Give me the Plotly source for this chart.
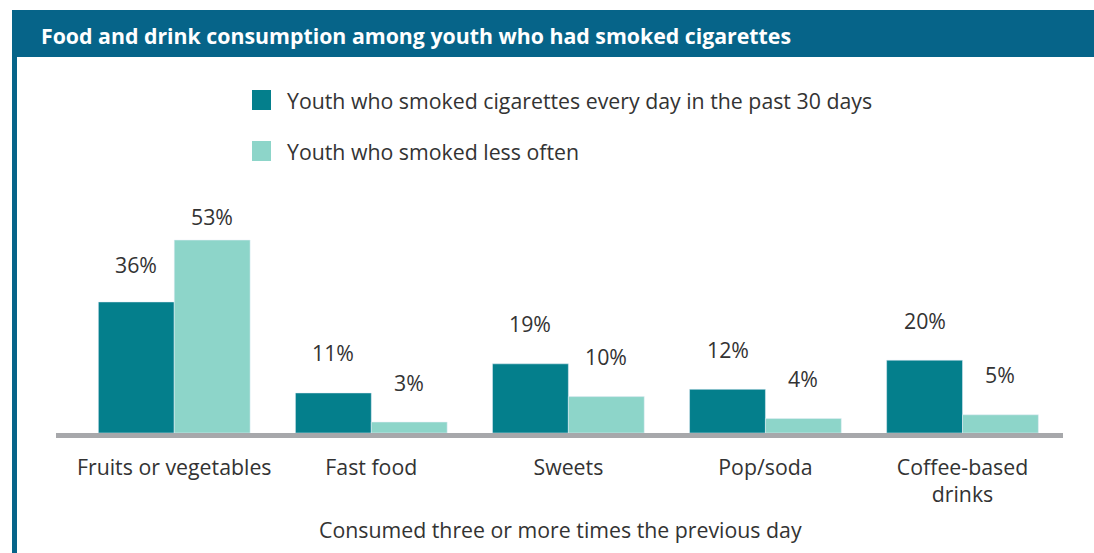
import plotly.graph_objects as go

categories = ["Fruits or vegetables", "Fast food", "Sweets", "Pop/soda", "Coffee-based<br>drinks"]
daily = [36, 11, 19, 12, 20]
less_often = [53, 3, 10, 4, 5]
series_names = ["Youth who smoked cigarettes every day in the past 30 days",
                "Youth who smoked less often"]
title_text = "Food and drink consumption among youth who had smoked cigarettes"
x_title = "Consumed three or more times the previous day"

W, H = 1094, 553
ML, MR, MT, MB = 56, 31, 69, 120
PW, PH = W - ML - MR, H - MT - MB

DARK = "#047f8c"
LIGHT = "#8dd5c9"
HEADER = "#066489"
TEXT = "#333333"
FONT = "Open Sans"
FS = 21.3


def px(x):
    return (x - ML) / PW


def py(y):
    return (H - MB - y) / PH


fig = go.Figure()
fig.add_bar(x=categories, y=daily, name=series_names[0], marker_color=DARK)
fig.add_bar(x=categories, y=less_often, name=series_names[1], marker_color=LIGHT)

bargap = 0.23
half = (1 - bargap) / 4
annotations = []
for i in range(len(categories)):
    for vals, off in ((daily, -half), (less_often, half)):
        v = vals[i]
        shift = 40
        if v > 50:
            shift = 24
        elif v > 30:
            shift = 37
        annotations.append(dict(x=i + off, y=v, xref="x", yref="y", text=f"{v}%",
                                showarrow=False, yshift=shift,
                                font=dict(size=FS, color=TEXT, family=FONT)))

# header bar title
annotations.append(dict(x=px(39), y=py(35), xref="paper", yref="paper", xanchor="left",
                        yanchor="middle", text=f"<b>{title_text}</b>", showarrow=False,
                        font=dict(size=FS, color="white", family=FONT)))
# legend entries
for name, yc in zip(series_names, (100, 151)):
    annotations.append(dict(x=px(285), y=py(yc), xref="paper", yref="paper", xanchor="left",
                            yanchor="middle", text=name, showarrow=False,
                            font=dict(size=FS, color=TEXT, family=FONT)))
# axis title
annotations.append(dict(x=px(560), y=py(529), xref="paper", yref="paper", xanchor="center",
                        yanchor="middle", text=x_title, showarrow=False,
                        font=dict(size=FS, color=TEXT, family=FONT)))

shapes = [
    dict(type="rect", xref="paper", yref="paper", x0=px(12), x1=px(1094), y0=py(57), y1=py(10),
         fillcolor=HEADER, line_width=0, layer="below"),
    dict(type="rect", xref="paper", yref="paper", x0=px(12), x1=px(17), y0=py(553), y1=py(57),
         fillcolor=HEADER, line_width=0, layer="below"),
    dict(type="rect", xref="paper", yref="paper", x0=px(252), x1=px(271), y0=py(110), y1=py(90),
         fillcolor=DARK, line_width=0),
    dict(type="rect", xref="paper", yref="paper", x0=px(252), x1=px(271), y0=py(161), y1=py(141),
         fillcolor=LIGHT, line_width=0),
]

fig.update_layout(
    width=W, height=H,
    margin=dict(l=ML, r=MR, t=MT, b=MB, pad=0),
    paper_bgcolor="white", plot_bgcolor="white",
    barmode="group", bargap=bargap, bargroupgap=0,
    showlegend=False,
    font=dict(family=FONT, size=FS, color=TEXT),
    annotations=annotations,
    shapes=shapes,
    xaxis=dict(range=[-0.6, 4.51], showline=True, linecolor="#a7a8ab", linewidth=5,
               ticks="", showgrid=False, tickfont=dict(size=FS, color=TEXT),
               ticklabelstandoff=11),
    yaxis=dict(range=[0, 100], visible=False, showgrid=False, zeroline=False),
)

fig.write_html("out.html")
